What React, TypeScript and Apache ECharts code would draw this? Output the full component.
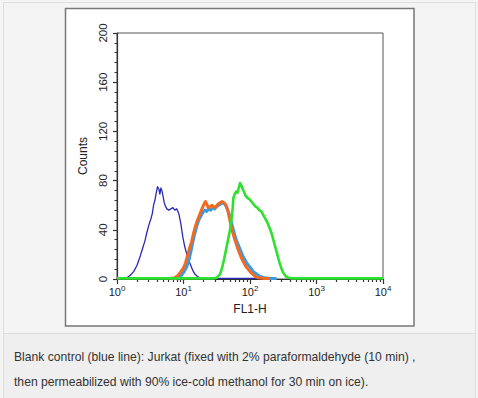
import React, { useEffect, useRef } from "react";
import * as echarts from "echarts";

// Histogram data: log10(FL1-H) and counts
const navyLog = [0.0, 0.1, 0.15, 0.2, 0.25, 0.3, 0.34, 0.38, 0.42, 0.45, 0.48, 0.51, 0.53, 0.55, 0.57, 0.59, 0.61, 0.63, 0.645, 0.66, 0.675, 0.69, 0.71, 0.73, 0.75, 0.78, 0.81, 0.84, 0.87, 0.9, 0.93, 0.96, 0.99, 1.02, 1.05, 1.08, 1.11, 1.14, 1.17, 1.21, 1.25, 1.3, 2.2];
const navyCounts = [0.5, 0.5, 1, 3, 6, 11, 17, 24, 31, 38, 44, 49, 53, 60, 64, 70, 75, 73, 69, 74, 72, 68, 62, 59, 57, 56, 57, 58, 56, 57, 53, 45, 34, 26, 20, 15, 11, 7, 4, 2, 1, 0.5, 0.5];

const cyanLog = [0.85, 0.92, 0.97, 1.01, 1.05, 1.08, 1.11, 1.14, 1.17, 1.2, 1.23, 1.26, 1.29, 1.32, 1.35, 1.38, 1.41, 1.44, 1.47, 1.5, 1.53, 1.56, 1.59, 1.62, 1.65, 1.68, 1.71, 1.74, 1.77, 1.8, 1.83, 1.86, 1.89, 1.92, 1.95, 1.98, 2.01, 2.05, 2.1, 2.15, 2.22, 2.3, 2.4];
const cyanCounts = [0.5, 1, 3, 6, 10, 15, 22, 30, 37, 43, 48, 51, 54, 56, 55, 57, 56, 58, 57, 59, 60, 61, 62, 61, 58, 54, 48, 42, 36, 31, 27, 23, 19, 16, 13, 11, 9, 6, 4, 2, 1, 0.5, 0.5];

const orangeLog = [0.8, 0.87, 0.92, 0.96, 1.0, 1.03, 1.06, 1.09, 1.12, 1.15, 1.18, 1.21, 1.24, 1.27, 1.3, 1.33, 1.35, 1.37, 1.4, 1.43, 1.46, 1.49, 1.52, 1.55, 1.58, 1.61, 1.64, 1.67, 1.7, 1.73, 1.76, 1.79, 1.82, 1.85, 1.88, 1.91, 1.94, 1.97, 2.0, 2.04, 2.08, 2.13, 2.2, 2.3];
const orangeCounts = [0.5, 1, 3, 6, 9, 13, 19, 25, 30, 37, 43, 48, 52, 56, 60, 63, 61, 58, 59, 60, 58, 59, 61, 62, 63, 62, 60, 55, 47, 40, 34, 29, 24, 20, 16, 13, 10, 8, 6, 4, 2, 1, 0.5, 0.5];

const greenLog = [0.0, 1.45, 1.5, 1.55, 1.58, 1.61, 1.64, 1.67, 1.7, 1.72, 1.74, 1.75, 1.77, 1.79, 1.81, 1.83, 1.85, 1.87, 1.89, 1.91, 1.93, 1.96, 1.99, 2.02, 2.05, 2.08, 2.11, 2.14, 2.17, 2.2, 2.23, 2.26, 2.29, 2.32, 2.35, 2.38, 2.41, 2.44, 2.47, 2.5, 2.54, 2.58, 2.63, 4.0];
const greenCounts = [0.5, 0.5, 1, 4, 9, 16, 24, 32, 40, 48, 58, 66, 69, 71, 70, 74, 78, 76, 73, 71, 68, 66, 65, 63, 61, 59, 58, 56, 55, 52, 49, 46, 42, 38, 32, 26, 20, 14, 9, 5, 2, 1, 0.5, 0.5];

const yTickValues = [0, 40, 80, 120, 160, 200];
const xDecadeExponents = [0, 1, 2, 3, 4];

const captionLines = [
  "Blank control (blue line): Jurkat (fixed with 2% paraformaldehyde (10 min) ,",
  "then permeabilized with 90% ice-cold methanol for 30 min on ice).",
];

const FONT = "'Liberation Sans', Arial, Helvetica, sans-serif";

function pairs(logs: number[], counts: number[]) {
  return logs.map((e, i) => [Math.pow(10, e), counts[i]]);
}

export default function App() {
  const ref = useRef<HTMLDivElement>(null);
  useEffect(() => {
    if (!ref.current) return;
    const chart = echarts.init(ref.current, undefined, { renderer: "svg" });
    const line = (name: string, data: number[][], color: string, width: number) => ({
      type: "line",
      name,
      data,
      showSymbol: false,
      symbol: "none",
      silent: true,
      lineStyle: { color, width, join: "round" },
      itemStyle: { color },
    });
    chart.setOption({
      animation: false,
      backgroundColor: "#f4f4f4",
      textStyle: { fontFamily: FONT },
      graphic: [
        { type: "rect", z: -100, shape: { x: 3.5, y: 2.5, width: 472, height: 400 }, style: { fill: "#f4f4f4", stroke: "#dedede", lineWidth: 1 } },
        { type: "rect", z: -99, shape: { x: 4, y: 333, width: 471, height: 65 }, style: { fill: "#efefef", stroke: "none" } },
        { type: "line", z: -99, shape: { x1: 4, y1: 333.5, x2: 475, y2: 333.5 }, style: { stroke: "#dcdcdc", lineWidth: 1 } },
        { type: "rect", z: -98, shape: { x: 65.5, y: 8.5, width: 348.5, height: 317.5 }, style: { fill: "#ffffff", stroke: "#777777", lineWidth: 1.5 } },
        ...captionLines.map((t, i) => ({
          type: "text",
          z: 10,
          x: 14,
          y: 357 + i * 25,
          style: { text: t, fill: "#333333", font: `12.15px ${FONT}`, textVerticalAlign: "middle", verticalAlign: "middle" },
        })),
      ],
      grid: {
        left: 117,
        top: 33,
        width: 266,
        height: 246,
        show: true,
        borderColor: "#555555",
        borderWidth: 1,
        backgroundColor: "transparent",
      },
      xAxis: {
        type: "log",
        logBase: 10,
        min: Math.pow(10, xDecadeExponents[0]),
        max: Math.pow(10, xDecadeExponents[xDecadeExponents.length - 1]),
        name: "FL1-H",
        nameLocation: "middle",
        nameGap: 24,
        nameTextStyle: { color: "#222", fontSize: 12, fontFamily: FONT },
        axisLine: { show: true, lineStyle: { color: "#333", width: 1.2 } },
        axisTick: { show: true, inside: false, length: 5, lineStyle: { color: "#333", width: 1.2 } },
        minorTick: { show: true, splitNumber: 9, length: 3, lineStyle: { color: "#333", width: 1.2 } },
        splitLine: { show: false },
        minorSplitLine: { show: false },
        axisLabel: {
          margin: 5,
          color: "#222",
          formatter: (v: number) => `{b|10}{s|${Math.round(Math.log10(v))}}`,
          rich: {
            b: { fontSize: 11, color: "#222", fontFamily: FONT },
            s: { fontSize: 8, color: "#222", fontFamily: FONT, padding: [0, 0, 7, 0] },
          },
        },
      },
      yAxis: {
        type: "value",
        min: yTickValues[0],
        max: yTickValues[yTickValues.length - 1],
        interval: yTickValues[1] - yTickValues[0],
        name: "Counts",
        nameLocation: "middle",
        nameGap: 24,
        nameRotate: 90,
        nameTextStyle: { color: "#222", fontSize: 12, fontFamily: FONT },
        axisLine: { show: true, lineStyle: { color: "#333", width: 1.2 } },
        axisTick: { show: true, inside: false, length: 4, lineStyle: { color: "#333", width: 1.2 } },
        minorTick: { show: true, splitNumber: 5, length: 2.5, lineStyle: { color: "#333" } },
        splitLine: { show: false },
        axisLabel: { rotate: 90, margin: 8, color: "#222", fontSize: 11.5, fontFamily: FONT },
      },
      series: [
        line("Blank control", pairs(navyLog, navyCounts), "#2a2ab8", 1.3),
        line("Sample 2", pairs(cyanLog, cyanCounts), "#3a9be0", 3),
        line("Sample 3", pairs(orangeLog, orangeCounts), "#f26a22", 3),
        line("Antibody", pairs(greenLog, greenCounts), "#2ee12e", 2.6),
      ],
    });
    return () => chart.dispose();
  }, []);
  return (
    <div
      ref={ref}
      style={{ position: "fixed", left: 0, top: 0, width: 478, height: 398 }}
    />
  );
}
